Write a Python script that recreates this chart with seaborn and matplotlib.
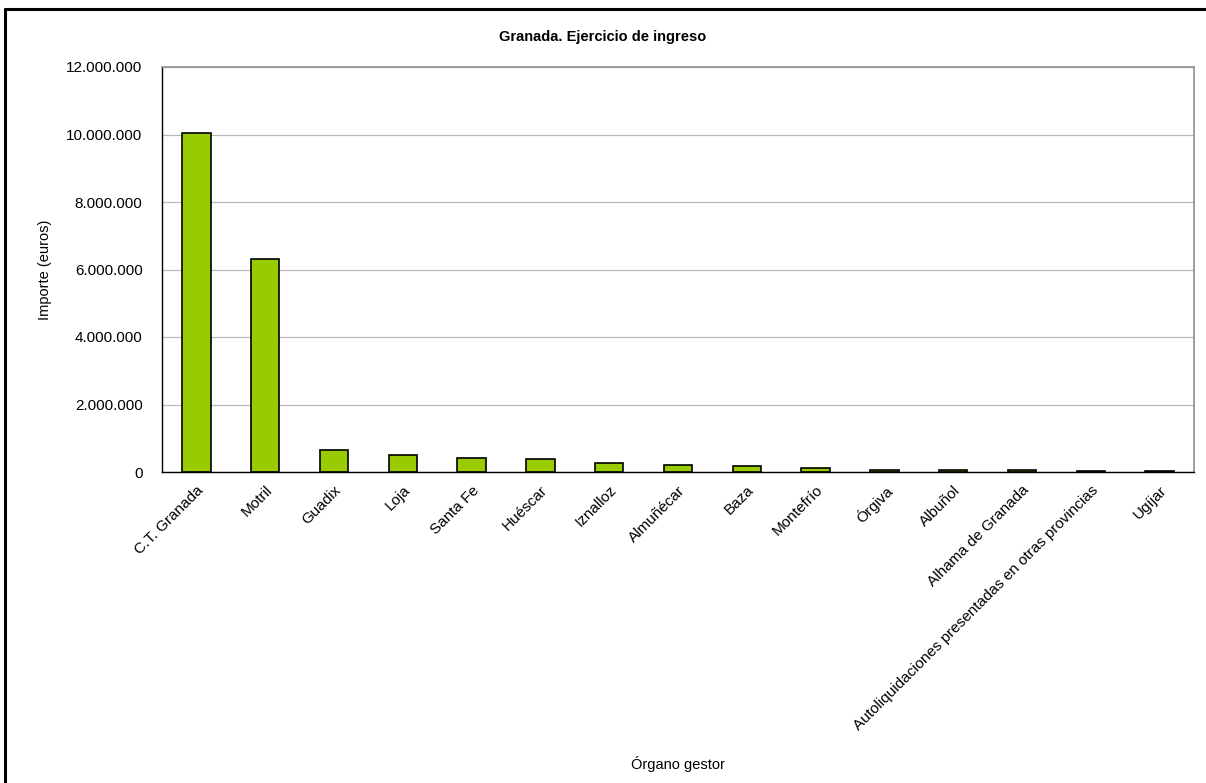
import matplotlib
matplotlib.use("Agg")
import matplotlib.pyplot as plt
import matplotlib.ticker as mticker
from matplotlib.lines import Line2D
import seaborn as sns
import pandas as pd

categories = ["C.T. Granada", "Motril", "Guadix", "Loja", "Santa Fe", "Huéscar",
              "Iznalloz", "Almuñécar", "Baza", "Montefrío", "Órgiva", "Albuñol",
              "Alhama de Granada", "Autoliquidaciones presentadas en otras provincias",
              "Ugíjar"]
values = [10030000, 6310000, 660000, 500000, 410000, 390000, 280000, 220000,
          180000, 130000, 70000, 50000, 50000, 30000, 20000]

sns.set_theme(style="white")
plt.rcParams["font.family"] = ["Liberation Sans", "DejaVu Sans"]
plt.rcParams["text.color"] = "black"
plt.rcParams["axes.labelcolor"] = "black"
plt.rcParams["xtick.color"] = "black"
plt.rcParams["ytick.color"] = "black"

df = pd.DataFrame({"cat": categories, "val": values})

fig = plt.figure(figsize=(12.06, 7.83), dpi=100)
ax = fig.add_axes([162/1206, 1-472/783, (1194-162)/1206, (472-67)/783])

sns.barplot(data=df, x="cat", y="val", color="#99CC00", width=0.41,
            edgecolor="black", linewidth=1.2, saturation=1, ax=ax)

ax.set_ylim(0, 12000000)
ax.set_xlim(-0.5, len(categories) - 0.5)
ax.yaxis.set_major_locator(mticker.MultipleLocator(2000000))
ax.yaxis.set_major_formatter(mticker.FuncFormatter(lambda v, p: f"{int(v):,}".replace(",", ".")))
ax.grid(axis="y", color="#b8b8b8", linewidth=0.9)
ax.set_axisbelow(True)

for s in ["top", "right"]:
    ax.spines[s].set_color("#909090")
    ax.spines[s].set_linewidth(1.2)
for s in ["left", "bottom"]:
    ax.spines[s].set_color("black")
    ax.spines[s].set_linewidth(1.0)

ax.tick_params(axis="y", direction="in", length=4, width=0.8, color="#909090",
               labelsize=11, pad=14)
ax.tick_params(axis="x", length=0, labelsize=11, pad=8)
for lab in ax.get_xticklabels():
    lab.set_rotation(45)
    lab.set_ha("right")
    lab.set_rotation_mode("anchor")

ax.set_xlabel("Órgano gestor", fontsize=10.5)
ax.xaxis.set_label_coords(0.5, -0.7)
ax.set_ylabel("Importe (euros)", fontsize=10.5, labelpad=10)

fig.text(0.5, 1-37/783, "Granada. Ejercicio de ingreso", ha="center", va="center",
         fontsize=10.5, fontweight="bold")

fig.add_artist(Line2D([5/1206, 5/1206], [0, 1-9/783], transform=fig.transFigure,
                      color="black", linewidth=2.2))
fig.add_artist(Line2D([5/1206, 1], [1-9/783, 1-9/783], transform=fig.transFigure,
                      color="black", linewidth=2.2))

fig.savefig("out.png", dpi=100)
